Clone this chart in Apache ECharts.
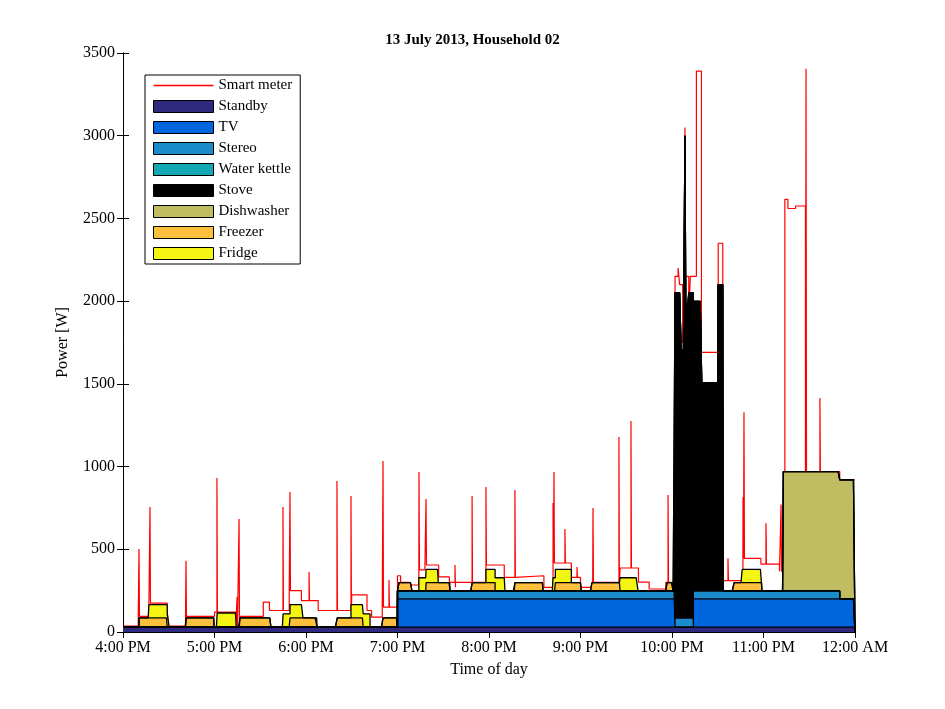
<!DOCTYPE html>
<html>
<head>
<meta charset="utf-8">
<script src="https://cdn.jsdelivr.net/npm/echarts@6/dist/echarts.min.js"></script>
<style>html,body{margin:0;padding:0;background:#fff}#main{width:945px;height:709px}</style>
</head>
<body>
<div id="main"></div>
<script>
// minutes after 4:00 PM
var tickLabels = ['4:00 PM','5:00 PM','6:00 PM','7:00 PM','8:00 PM','9:00 PM','10:00 PM','11:00 PM','12:00 AM'];

// appliance segments [start, end, watts]
var standbySegs = [[0, 480, 30]];
var tvSegs = [[180, 362, 170], [374, 480, 170]];
var stereoSegs = [[180, 362, 48], [362, 374, 55], [374, 470, 48]];
var kettleSegs = [];
var stoveSegs = [[362, 366, 1965], [366, 368.5, 1620], [368.5, 369, 2915], [369, 371, 1900], [371, 374, 1965],
    [374, 379.5, 1750], [379.5, 390.2, 1260], [390.2, 393.3, 1852]];
var dishSegs = [[433, 470, 722], [470, 480, 720]];
var freezerSegs = [[10.5, 29, 55], [41.3, 59.7, 55], [76.7, 97, 55], [109.5, 127.2, 55], [140.3, 157.4, 55],
    [170.5, 179.7, 55], [181, 189.5, 50], [198.7, 214.4, 50], [228.9, 243.9, 50], [257, 275.4, 50],
    [283.3, 300.3, 50], [307.5, 325.9, 50], [356.7, 360.7, 50], [400.7, 419, 50]];
var fridgeSegs = [[17, 30.2, 80], [61.6, 74.1, 85], [105, 118, 80], [149.5, 162, 80], [194, 206.6, 80],
    [238, 250.5, 80], [282, 293.8, 80], [326, 337.7, 80], [405.9, 419, 80]];

// smart meter: slow baseline [minute, W] and short spikes [minute, W]
var meterBase = [[0, 35], [10, 95], [17, 175], [29, 120], [30, 35], [41, 95], [60, 120], [74, 35], [76.7, 95],
    [92, 180], [96, 130], [109, 250], [117, 190], [128, 130], [150, 225], [160, 130], [163, 90], [170, 150],
    [180, 340], [182, 300], [188, 284], [194, 375], [198, 405], [207, 333], [214, 300], [218, 270], [230, 300],
    [238, 405], [250, 330], [258, 340], [276, 270], [282, 417], [294, 330], [300, 270], [308, 300], [326, 387],
    [338, 302], [345, 260], [356, 300], [362, 2150], [364, 2200], [365, 2100], [367, 1750], [369, 2150],
    [371, 1900], [372, 2150], [376, 3390], [379.3, 1690], [390.3, 2350], [393.3, 310], [406.5, 445],
    [418.3, 410], [421.8, 545], [430.5, 367], [434, 2615], [436, 2560], [441, 2575], [447.5, 970],
    [470, 920], [480, 920]];
var meterSpikes = [[10.5, 502], [17.7, 756], [41.3, 430], [61.6, 931], [74.8, 212], [76.1, 683], [104.9, 756],
    [109.5, 847], [122, 363], [140.3, 913], [149.5, 822], [170.5, 1034], [174.4, 314], [194.1, 967],
    [198.7, 804], [217.7, 405], [228.9, 822], [238, 877], [257, 858], [282, 780], [282.6, 967], [289.8, 623],
    [297.7, 393], [308.2, 750], [325.2, 1179], [333.1, 1276], [357.4, 828], [368.5, 3050], [396.7, 445],
    [406.6, 814], [407.2, 1329], [421.6, 658], [431.5, 770], [447.9, 3405], [457, 1414]];

var step = 0.25;
var times = [];
for (var t = 0; t <= 480; t += step) times.push(t);

function segValues(segs) {
    return times.map(function (t) {
        var v = 0;
        segs.forEach(function (s) { if (t >= s[0] && t < s[1]) v += s[2]; });
        return v;
    });
}
function baseAt(t) {
    var v = meterBase[0][1];
    meterBase.forEach(function (p) { if (p[0] <= t) v = p[1]; });
    return v;
}
var meterPts = meterBase.slice();
meterSpikes.forEach(function (s) {
    meterPts.push([s[0], s[1]]);
    meterPts.push([s[0] + 0.3, baseAt(s[0])]);
});
meterPts.sort(function (a, b) { return a[0] - b[0]; });

var font = 'Liberation Serif';
var apps = [
    ['Standby', '#2f2a80', standbySegs],
    ['TV', '#0066dd', tvSegs],
    ['Stereo', '#1a8ccc', stereoSegs],
    ['Water kettle', '#14a8b5', kettleSegs],
    ['Stove', '#000000', stoveSegs],
    ['Dishwasher', '#c0bc62', dishSegs],
    ['Freezer', '#fdc03d', freezerSegs],
    ['Fridge', '#f5f514', fridgeSegs]
];

// cumulative stack computed here; upper layers drawn first so lower ones paint over them
var cum = times.map(function () { return 0; });
var layers = apps.map(function (a) {
    var vals = segValues(a[2]);
    cum = cum.map(function (c, i) { return c + vals[i]; });
    return times.map(function (t, i) { return [t, cum[i]]; });
});

var series = [{
    name: 'Smart meter', type: 'line', step: 'end', data: meterPts, symbol: 'none', z: 1,
    lineStyle: {color: '#ff0000', width: 1.2}, itemStyle: {color: '#ff0000'}
}];
for (var k = apps.length - 1; k >= 0; k--) {
    series.push({
        name: apps[k][0], type: 'line', step: 'end', symbol: 'none', z: 2,
        data: layers[k],
        lineStyle: {color: '#000', width: 1.3},
        itemStyle: {color: apps[k][1]},
        areaStyle: {color: apps[k][1], opacity: 1}
    });
}

var legendData = [{name: 'Smart meter', icon: 'path://M0,5L60,5L60,6.5L0,6.5Z', itemStyle: {color: '#ff0000'}}];
apps.forEach(function (a) {
    legendData.push({name: a[0], icon: 'rect', itemStyle: {color: a[1], borderColor: '#000', borderWidth: 1}});
});

var myChart = echarts.init(document.getElementById('main'));
var axisCommon = {
    axisLine: {show: true, lineStyle: {color: '#000', width: 1}},
    axisTick: {show: true, inside: true, length: 6, lineStyle: {color: '#000'}},
    splitLine: {show: false}
};
myChart.setOption({
    animation: false,
    textStyle: {fontFamily: font},
    title: {text: '13 July 2013, Household 02', left: 'center', top: 28,
        textStyle: {fontFamily: font, fontSize: 15, fontWeight: 'bold', color: '#000'}},
    legend: {
        data: legendData, orient: 'vertical', left: 145, top: 75, itemWidth: 60, itemHeight: 12, itemGap: 6,
        borderColor: '#000', borderWidth: 1, padding: [3, 8, 3, 8], backgroundColor: '#fff',
        textStyle: {fontFamily: font, fontSize: 15, color: '#000'}
    },
    grid: {left: 123, right: 90, top: 53, bottom: 77},
    xAxis: [
        Object.assign({type: 'value', min: 0, max: 480, interval: 60, name: 'Time of day', nameLocation: 'middle',
            nameGap: 30, nameTextStyle: {fontFamily: font, fontSize: 16, color: '#000'},
            axisLabel: {fontFamily: font, fontSize: 16, color: '#000',
                formatter: function (v) { return tickLabels[Math.round(v / 60)]; }}}, axisCommon),
        Object.assign({type: 'value', min: 0, max: 480, interval: 60, position: 'top', axisLabel: {show: false}}, axisCommon)
    ],
    yAxis: [
        Object.assign({type: 'value', min: 0, max: 3500, interval: 500, name: 'Power [W]', nameLocation: 'middle',
            nameGap: 52, nameTextStyle: {fontFamily: font, fontSize: 16, color: '#000'},
            axisLabel: {fontFamily: font, fontSize: 16, color: '#000', formatter: function (v) { return String(v); }}}, axisCommon),
        Object.assign({type: 'value', min: 0, max: 3500, interval: 500, position: 'right', axisLabel: {show: false}}, axisCommon)
    ],
    series: series
});
</script>
</body>
</html>
